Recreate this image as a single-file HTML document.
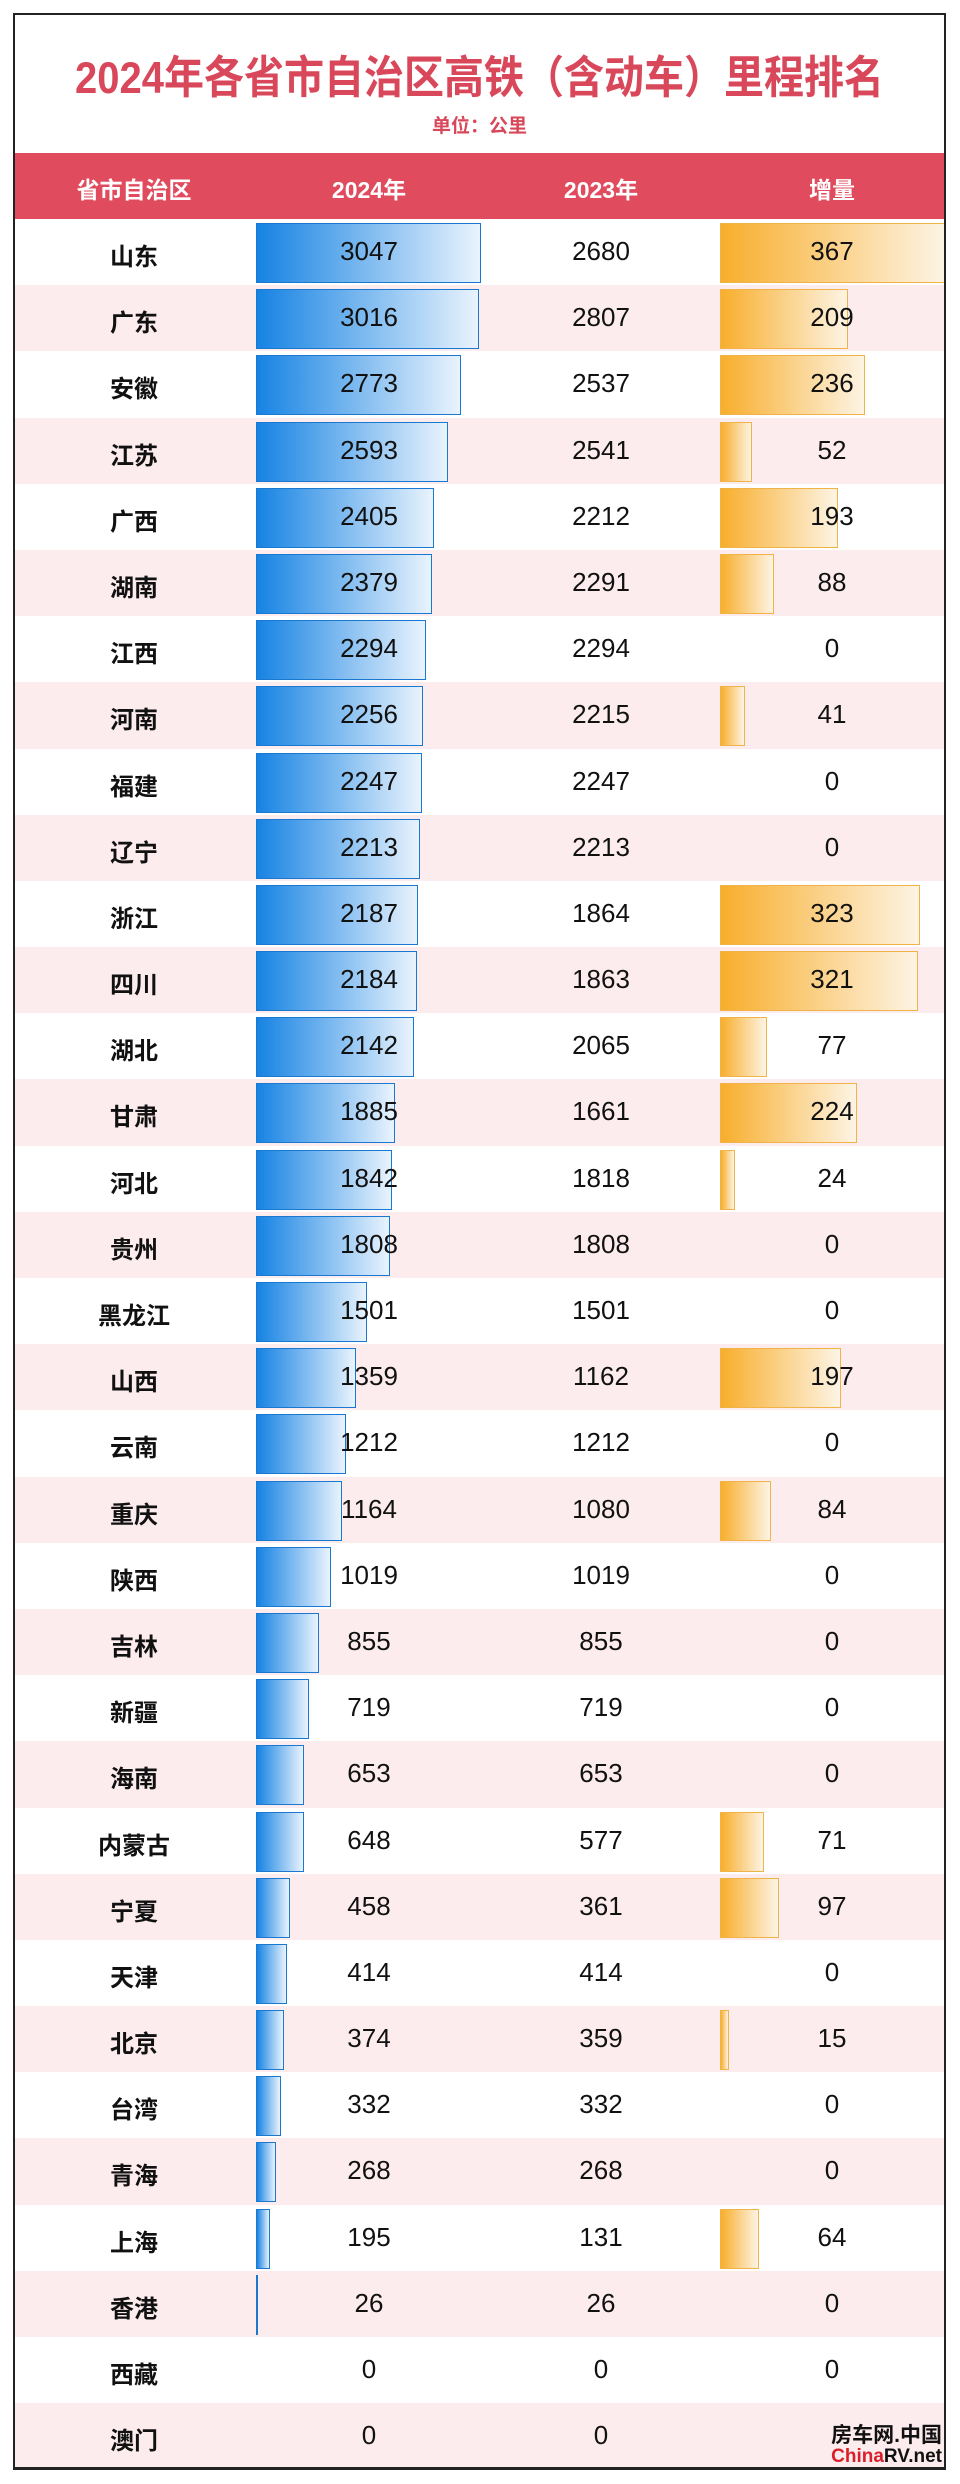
<!DOCTYPE html>
<html><head><meta charset="utf-8"><style>
*{margin:0;padding:0;box-sizing:border-box}
body{width:960px;height:2484px;background:#fff;position:relative;overflow:hidden;font-family:"Liberation Sans","Noto Sans CJK SC",sans-serif}
#f{position:absolute;left:13px;top:13px;width:933px;height:2457px;border:2px solid #222;border-bottom-width:3px;overflow:hidden}
h1{position:absolute;left:0;width:929px;top:30px;text-align:center;font-size:40px;font-weight:bold;color:#d9485a;transform:scaleY(1.12)}
h2{position:absolute;left:0;width:929px;top:96px;text-align:center;font-size:19px;font-weight:bold;color:#d9485a}
#hd{position:absolute;left:0;top:138px;width:929px;height:66px;background:#e04c5e;color:#fff;font-size:23px;font-weight:bold}
#hd span{position:absolute;top:18px;transform:translateX(-50%)}
#rows{position:absolute;left:0;top:204px;width:929px}
.r{position:relative;height:66.2px;font-size:26px;color:#111}
.r:nth-child(even){background:#fcecee}
.r b{position:absolute;left:119px;top:18px;transform:translateX(-50%);font-size:24px}
.r i{position:absolute;left:241px;top:4px;height:60px;background:linear-gradient(90deg,#1683e3,#e9f3fd);border:1px solid #1a78d0}
.r u{position:absolute;left:705px;top:4px;height:60px;background:linear-gradient(90deg,#f8ae2c,#fdf4e4);border:1px solid #efb347}
.r span{position:absolute;top:17px;transform:translateX(-50%)}
.a{left:354px}.b{left:586px}.c{left:817px}
#wm{position:absolute;right:2px;bottom:0;text-align:right;font-weight:bold;line-height:1.05}
</style></head><body><div id="f">
<h1>2024年各省市自治区高铁（含动车）里程排名</h1>
<h2>单位：公里</h2>
<div id="hd"><span style="left:119px">省市自治区</span><span style="left:354px">2024年</span><span style="left:586px">2023年</span><span style="left:817px">增量</span></div>
<div id="rows">
<div class="r"><b>山东</b><i style="width:225px"></i><span class="a">3047</span><span class="b">2680</span><u style="width:225px"></u><span class="c">367</span></div>
<div class="r"><b>广东</b><i style="width:223px"></i><span class="a">3016</span><span class="b">2807</span><u style="width:128px"></u><span class="c">209</span></div>
<div class="r"><b>安徽</b><i style="width:205px"></i><span class="a">2773</span><span class="b">2537</span><u style="width:145px"></u><span class="c">236</span></div>
<div class="r"><b>江苏</b><i style="width:192px"></i><span class="a">2593</span><span class="b">2541</span><u style="width:32px"></u><span class="c">52</span></div>
<div class="r"><b>广西</b><i style="width:178px"></i><span class="a">2405</span><span class="b">2212</span><u style="width:118px"></u><span class="c">193</span></div>
<div class="r"><b>湖南</b><i style="width:176px"></i><span class="a">2379</span><span class="b">2291</span><u style="width:54px"></u><span class="c">88</span></div>
<div class="r"><b>江西</b><i style="width:170px"></i><span class="a">2294</span><span class="b">2294</span><span class="c">0</span></div>
<div class="r"><b>河南</b><i style="width:167px"></i><span class="a">2256</span><span class="b">2215</span><u style="width:25px"></u><span class="c">41</span></div>
<div class="r"><b>福建</b><i style="width:166px"></i><span class="a">2247</span><span class="b">2247</span><span class="c">0</span></div>
<div class="r"><b>辽宁</b><i style="width:164px"></i><span class="a">2213</span><span class="b">2213</span><span class="c">0</span></div>
<div class="r"><b>浙江</b><i style="width:162px"></i><span class="a">2187</span><span class="b">1864</span><u style="width:200px"></u><span class="c">323</span></div>
<div class="r"><b>四川</b><i style="width:161px"></i><span class="a">2184</span><span class="b">1863</span><u style="width:198px"></u><span class="c">321</span></div>
<div class="r"><b>湖北</b><i style="width:158px"></i><span class="a">2142</span><span class="b">2065</span><u style="width:47px"></u><span class="c">77</span></div>
<div class="r"><b>甘肃</b><i style="width:139px"></i><span class="a">1885</span><span class="b">1661</span><u style="width:137px"></u><span class="c">224</span></div>
<div class="r"><b>河北</b><i style="width:136px"></i><span class="a">1842</span><span class="b">1818</span><u style="width:15px"></u><span class="c">24</span></div>
<div class="r"><b>贵州</b><i style="width:134px"></i><span class="a">1808</span><span class="b">1808</span><span class="c">0</span></div>
<div class="r"><b>黑龙江</b><i style="width:111px"></i><span class="a">1501</span><span class="b">1501</span><span class="c">0</span></div>
<div class="r"><b>山西</b><i style="width:100px"></i><span class="a">1359</span><span class="b">1162</span><u style="width:121px"></u><span class="c">197</span></div>
<div class="r"><b>云南</b><i style="width:90px"></i><span class="a">1212</span><span class="b">1212</span><span class="c">0</span></div>
<div class="r"><b>重庆</b><i style="width:86px"></i><span class="a">1164</span><span class="b">1080</span><u style="width:51px"></u><span class="c">84</span></div>
<div class="r"><b>陕西</b><i style="width:75px"></i><span class="a">1019</span><span class="b">1019</span><span class="c">0</span></div>
<div class="r"><b>吉林</b><i style="width:63px"></i><span class="a">855</span><span class="b">855</span><span class="c">0</span></div>
<div class="r"><b>新疆</b><i style="width:53px"></i><span class="a">719</span><span class="b">719</span><span class="c">0</span></div>
<div class="r"><b>海南</b><i style="width:48px"></i><span class="a">653</span><span class="b">653</span><span class="c">0</span></div>
<div class="r"><b>内蒙古</b><i style="width:48px"></i><span class="a">648</span><span class="b">577</span><u style="width:44px"></u><span class="c">71</span></div>
<div class="r"><b>宁夏</b><i style="width:34px"></i><span class="a">458</span><span class="b">361</span><u style="width:59px"></u><span class="c">97</span></div>
<div class="r"><b>天津</b><i style="width:31px"></i><span class="a">414</span><span class="b">414</span><span class="c">0</span></div>
<div class="r"><b>北京</b><i style="width:28px"></i><span class="a">374</span><span class="b">359</span><u style="width:9px"></u><span class="c">15</span></div>
<div class="r"><b>台湾</b><i style="width:25px"></i><span class="a">332</span><span class="b">332</span><span class="c">0</span></div>
<div class="r"><b>青海</b><i style="width:20px"></i><span class="a">268</span><span class="b">268</span><span class="c">0</span></div>
<div class="r"><b>上海</b><i style="width:14px"></i><span class="a">195</span><span class="b">131</span><u style="width:39px"></u><span class="c">64</span></div>
<div class="r"><b>香港</b><i style="width:2px"></i><span class="a">26</span><span class="b">26</span><span class="c">0</span></div>
<div class="r"><b>西藏</b><span class="a">0</span><span class="b">0</span><span class="c">0</span></div>
<div class="r"><b>澳门</b><span class="a">0</span><span class="b">0</span><span class="c"></span></div>
</div>
<div id="wm"><div style="font-size:21px;color:#111">房车网.中国</div><div style="font-size:19px"><span style="color:#d9202a">China</span><span style="color:#111">RV.net</span></div></div>
</div></body></html>
